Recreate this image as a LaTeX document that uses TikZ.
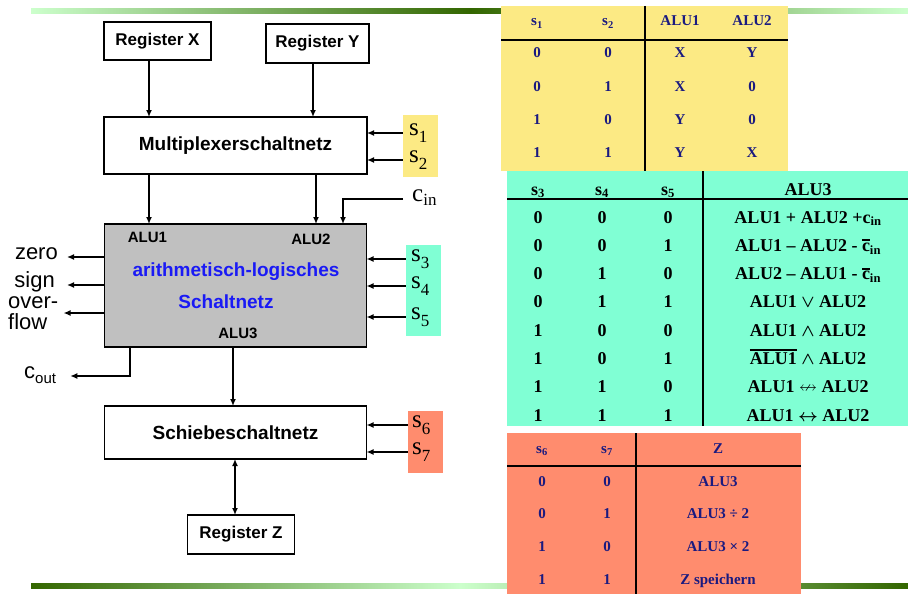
\documentclass[tikz,border=0pt]{standalone}
\usepackage{amsmath,amssymb}
\usepackage{fontspec}
\setmainfont{Liberation Serif}
\setsansfont{Liberation Sans}
\usepackage{xcolor}
\usetikzlibrary{arrows.meta,positioning,calc}
\definecolor{barlt}{HTML}{CCFFCC}
\definecolor{bardk}{HTML}{336600}
\definecolor{tabyel}{HTML}{FCEA84}
\definecolor{tabgrn}{HTML}{80FFD4}
\definecolor{tabsal}{HTML}{FF8C6E}
\definecolor{alugray}{HTML}{C0C0C0}
\definecolor{alublue}{HTML}{1A1AF5}
\definecolor{tabink}{HTML}{1A1A80}
\newcommand\lowidx[2][7pt]{\raisebox{-#1}{\fontsize{17}{17}\selectfont #2}}
\newcommand\negbar[1]{\setbox0=\hbox{#1}\rlap{\rule[\dimexpr\ht0+1.5pt\relax]{\wd0}{2pt}}\box0{}}
\tikzset{
  blk/.style={rectangle, draw=black, fill=white, line width=1.6pt, outer sep=0pt, inner sep=0pt,
              font=\fontsize{17}{20}\selectfont\sffamily\bfseries},
  blkbig/.style={blk, font=\fontsize{19}{22}\selectfont\sffamily\bfseries},
  port/.style={inner sep=0pt, font=\fontsize{15}{18}\selectfont\sffamily\bfseries},
  alutxt/.style={inner sep=0pt, text=alublue, font=\fontsize{19}{22}\selectfont\sffamily\bfseries},
  flag/.style={inner sep=0pt, align=left, font=\fontsize{22}{21}\selectfont\sffamily},
  sig/.style={inner sep=0pt, font=\fontsize{25}{25}\selectfont},
  selbox/.style={rectangle, draw=none, inner sep=0pt, minimum width=35pt},
  tsm/.style={inner sep=0pt, anchor=base, text=tabink, font=\fontsize{15}{17}\selectfont\bfseries},
  tbig/.style={inner sep=0pt, anchor=base, font=\fontsize{18}{20}\selectfont\bfseries},
  tline/.style={line width=1.6pt},
  arr/.style={-{Latex[length=7pt,width=6pt]}, line width=1.4pt},
  darr/.style={{Latex[length=7pt,width=6pt]}-{Latex[length=7pt,width=6pt]}, line width=1.4pt},
}
\begin{document}
\begin{tikzpicture}[x=1pt,y=1pt]
  \useasboundingbox (0,0) rectangle (908,-594);
  \shade[left color=barlt, right color=bardk] (31,-9) rectangle (470,-14);
  \shade[left color=bardk, right color=barlt] (470,-9) rectangle (908,-14);
  \shade[left color=bardk, right color=barlt] (31,-583) rectangle (460,-588);
  \shade[left color=barlt, right color=bardk] (460,-583) rectangle (908,-588);

  \fill[tabyel] (501,-6) rectangle (788,-171);
  \fill[tabgrn] (507,-171) rectangle (908,-426);
  \fill[tabsal] (507,-433) rectangle (801,-594);
  \draw[tline] (501,-40) -- (788,-40) (645,-6) -- (645,-171);
  \draw[tline] (507,-199) -- (908,-199) (703,-171) -- (703,-426);
  \draw[tline] (507,-466) -- (801,-466) (636,-433) -- (636,-594);

  \node[tsm] (yh1) at (537,-26) {s\textsubscript{1}};
  \node[tsm] (yh2) at (608,-26) {s\textsubscript{2}};
  \node[tsm] (yh3) at (680,-26) {ALU1};
  \node[tsm] (yh4) at (752,-26) {ALU2};
  \foreach \a/\b/\c/\d [count=\i from 0] in {0/0/X/Y, 0/1/X/0, 1/0/Y/0, 1/1/Y/X}{
    \node[tsm] (ya\i) at (537,{-58-33.3*\i}) {\a};
    \node[tsm] (yb\i) at (608,{-58-33.3*\i}) {\b};
    \node[tsm] (yc\i) at (680,{-58-33.3*\i}) {\c};
    \node[tsm] (yd\i) at (752,{-58-33.3*\i}) {\d};
  }

  \node[tbig] (gh1) at (538,-195) {s\textsubscript{3}};
  \node[tbig] (gh2) at (602,-195) {s\textsubscript{4}};
  \node[tbig] (gh3) at (668,-195) {s\textsubscript{5}};
  \node[tbig] (gh4) at (808,-195) {ALU3};
  \foreach \a/\b/\c/\d [count=\i from 0] in {
      0/0/0/{ALU1 + ALU2 +c\textsubscript{in}},
      0/0/1/{ALU1 – ALU2 - \negbar{c}\textsubscript{in}},
      0/1/0/{ALU2 – ALU1 - \negbar{c}\textsubscript{in}},
      0/1/1/{ALU1 $\boldsymbol{\vee}$ ALU2},
      1/0/0/{ALU1 $\boldsymbol{\wedge}$ ALU2},
      1/0/1/{\negbar{ALU1} $\boldsymbol{\wedge}$ ALU2},
      1/1/0/{ALU1 $\nleftrightarrow$ ALU2},
      1/1/1/{ALU1 $\boldsymbol{\leftrightarrow}$ ALU2}}{
    \node[tbig] (ga\i) at (538,{-223-28.3*\i}) {\a};
    \node[tbig] (gb\i) at (602,{-223-28.3*\i}) {\b};
    \node[tbig] (gc\i) at (668,{-223-28.3*\i}) {\c};
    \node[tbig] (gd\i) at (808,{-223-28.3*\i}) {\d};
  }

  \node[tsm] (sh1) at (542,-453) {s\textsubscript{6}};
  \node[tsm] (sh2) at (607,-453) {s\textsubscript{7}};
  \node[tsm] (sh3) at (718,-453) {Z};
  \foreach \a/\b/\c [count=\i from 0] in {0/0/{ALU3}, 0/1/{ALU3 ÷ 2}, 1/0/{ALU3 × 2}, 1/1/{Z speichern}}{
    \node[tsm] (sa\i) at (542,{-486-32.7*\i}) {\a};
    \node[tsm] (sb\i) at (607,{-486-32.7*\i}) {\b};
    \node[tsm] (sc\i) at (718,{-486-32.7*\i}) {\c};
  }

  \node[blk, minimum width=107pt, minimum height=38pt] (regx) at (157.5,-41) {Register X};
  \node[blk, minimum width=103pt, minimum height=39pt] (regy) at (317.5,-43.5) {Register Y};
  \node[blkbig, minimum width=263pt, minimum height=57pt] (mux) at (235.5,-145.5) {Multiplexerschaltnetz};
  \node[blk, fill=alugray, minimum width=262pt, minimum height=123pt, below=50pt of mux] (alu) {};
  \node[blkbig, minimum width=262pt, minimum height=53pt, below=59pt of alu] (schiebe) {Schiebeschaltnetz};
  \node[blk, minimum width=107pt, minimum height=39pt, below=56pt of schiebe, xshift=5.5pt] (regz) {Register Z};

  \node[port] (alu1) at (147.5,-237) {ALU1};
  \node[port] (alu2) at (311,-239) {ALU2};
  \node[port] (alu3) at (238,-333) {ALU3};
  \node[alutxt, anchor=base] (alutop) at (236,-276) {arithmetisch-logisches};
  \node[alutxt, anchor=base] (alubot) at (226,-308) {Schaltnetz};

  \node[selbox, fill=tabyel, minimum height=62pt] (sel12) at (420.5,-146) {};
  \node[selbox, fill=tabgrn, minimum height=91pt] (sel35) at (423.5,-290.5) {};
  \node[selbox, fill=tabsal, minimum height=62pt] (sel67) at (425.5,-442) {};
  \node[sig, anchor=mid west] (s1) at (409,-133) {s\lowidx{1}};
  \node[sig, anchor=mid west] (s2) at (409,-160) {s\lowidx{2}};
  \node[sig, anchor=mid west] (s3) at (411,-259) {s\lowidx{3}};
  \node[sig, anchor=mid west] (s4) at (411,-286) {s\lowidx{4}};
  \node[sig, anchor=mid west] (s5) at (411,-317) {s\lowidx{5}};
  \node[sig, anchor=mid west] (s6) at (412,-425) {s\lowidx{6}};
  \node[sig, anchor=mid west] (s7) at (412,-452) {s\lowidx{7}};
  \node[sig, anchor=mid west] (cin) at (412,-199) {c\lowidx[4.5pt]{in}};

  \node[flag, anchor=mid east] (zero) at (58,-257) {zero};
  \node[flag, anchor=mid east] (sign) at (55,-285) {sign};
  \node[flag, anchor=west] (ovfl) at (8,-313) {over-\\flow};
  \node[flag, anchor=mid west] (cout) at (24,-376) {c\raisebox{-5pt}{\fontsize{15}{15}\selectfont out}};

  \draw[arr] (regx.south -| 149,0) -- (mux.north -| 149,0);
  \draw[arr] (regy.south -| 313,0) -- (mux.north -| 313,0);
  \draw[arr] (mux.south -| 149,0) -- (alu.north -| 149,0);
  \draw[arr] (mux.south -| 316,0) -- (alu.north -| 316,0);
  \draw[arr] ([xshift=-9pt]cin.mid west) -| (alu.north -| 343,0);
  \draw[arr] (sel12.west |- s1.mid west) -- (mux.east |- s1.mid west);
  \draw[arr] (sel12.west |- s2.mid west) -- (mux.east |- s2.mid west);
  \draw[arr] (sel35.west |- s3.mid west) -- (alu.east |- s3.mid west);
  \draw[arr] (sel35.west |- s4.mid west) -- (alu.east |- s4.mid west);
  \draw[arr] (sel35.west |- s5.mid west) -- (alu.east |- s5.mid west);
  \draw[arr] (sel67.west |- s6.mid west) -- (schiebe.east |- s6.mid west);
  \draw[arr] (sel67.west |- s7.mid west) -- (schiebe.east |- s7.mid west);
  \draw[arr] (alu.west |- zero.mid east) -- ([xshift=9pt]zero.mid east);
  \draw[arr] (alu.west |- sign.mid east) -- ([xshift=12pt]sign.mid east);
  \draw[arr] (alu.west |- ovfl.east) -- ([xshift=5pt]ovfl.east);
  \draw[arr] (alu.south -| 130,0) |- ([xshift=14pt]cout.mid east);
  \draw[arr] (alu.south -| 233,0) -- (schiebe.north -| 233,0);
  \draw[darr] (schiebe.south -| 235,0) -- (regz.north -| 235,0);
\end{tikzpicture}
\end{document}
